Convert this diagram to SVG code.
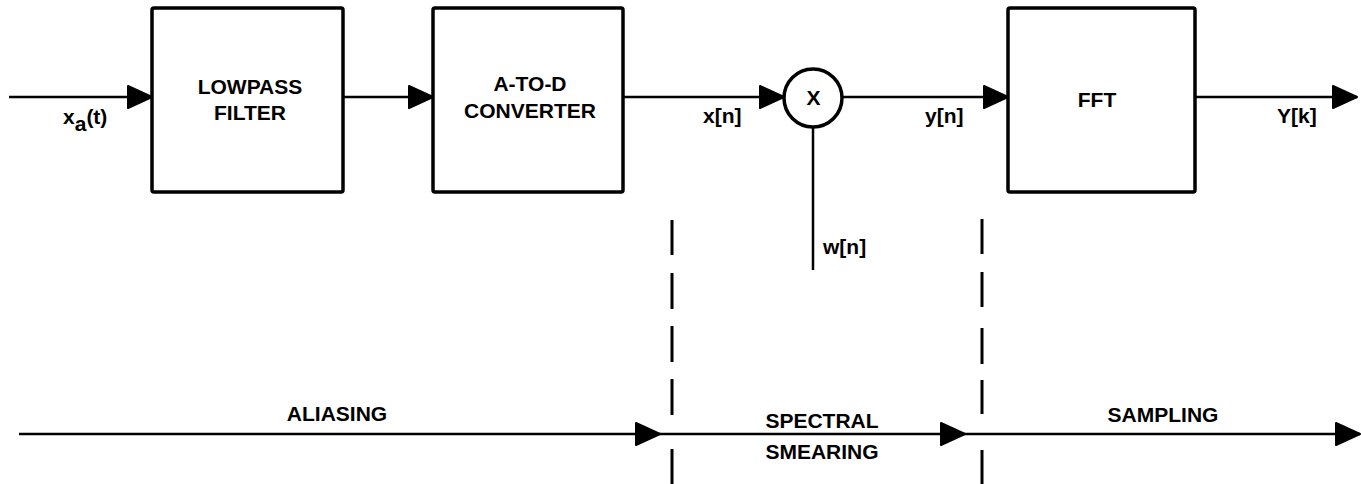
<svg xmlns="http://www.w3.org/2000/svg" width="1361" height="484" viewBox="0 0 1361 484">
<style>
  .box { fill: #fff; stroke: #000; stroke-width: 3.5; }
  .wire { stroke: #000; stroke-width: 2.5; fill: none; }
  .dash { stroke: #000; stroke-width: 3; }
  text { font-family: "Liberation Sans", Arial, Helvetica, sans-serif; font-weight: bold; font-size: 21px; fill: #000; }
  .c { text-anchor: middle; }
</style>
<defs>
  <marker id="ah" markerUnits="userSpaceOnUse" markerWidth="27" markerHeight="27" refX="25" refY="12" orient="auto" viewBox="-1 -1 27 26">
    <path d="M1,1 L25,12 L1,23 Z" fill="#000" stroke="#000" stroke-width="2" stroke-linejoin="round"/>
  </marker>
</defs>

<g id="connectors">
  <line class="wire" x1="9" y1="97" x2="152" y2="97" marker-end="url(#ah)"/>
  <line class="wire" x1="343" y1="97" x2="433" y2="97" marker-end="url(#ah)"/>
  <line class="wire" x1="623" y1="97" x2="784" y2="97" marker-end="url(#ah)"/>
  <line class="wire" x1="842" y1="97" x2="1008" y2="97" marker-end="url(#ah)"/>
  <line class="wire" x1="1195" y1="97" x2="1357" y2="97" marker-end="url(#ah)"/>
  <line class="wire" x1="813" y1="127" x2="813" y2="270"/>
  <line class="wire" x1="19" y1="434" x2="660" y2="434" marker-end="url(#ah)"/>
  <line class="wire" x1="660" y1="434" x2="965" y2="434" marker-end="url(#ah)"/>
  <line class="wire" x1="965" y1="434" x2="1360" y2="434" marker-end="url(#ah)"/>
</g>

<g id="boundaries">
  <path class="dash" d="M672,220 V255 M672,273 V309 M672,326 V362 M672,379 V415 M672,449 V484"/>
  <path class="dash" d="M982,219 V254 M982,272 V307 M982,328 V364 M982,380 V414 M982,450 V484"/>
</g>

<g id="lowpass">
  <rect class="box" x="152" y="8" width="191" height="184" rx="2"/>
  <text class="c" x="250" y="94" font-size="21.5">LOWPASS</text>
  <text class="c" x="250" y="120" font-size="21.5">FILTER</text>
</g>

<g id="adc">
  <rect class="box" x="433" y="8" width="190" height="184" rx="2"/>
  <text class="c" x="530" y="91" font-size="21.5">A-TO-D</text>
  <text class="c" x="530" y="118" font-size="21.5">CONVERTER</text>
</g>

<g id="multiplier">
  <circle class="box" cx="813" cy="98" r="29" stroke-width="3"/>
  <text class="c" x="813.5" y="105">X</text>
</g>

<g id="fft">
  <rect class="box" x="1008" y="8" width="187" height="184" rx="2"/>
  <text class="c" x="1097" y="107" font-size="21.5">FFT</text>
</g>

<g id="labels">
  <text x="63" y="124">x<tspan dy="7">a</tspan><tspan dy="-7">(t)</tspan></text>
  <text x="703" y="123">x[n]</text>
  <text x="925" y="123">y[n]</text>
  <text x="1277" y="123">Y[k]</text>
  <text x="823" y="254">w[n]</text>
  <text class="c" x="337" y="421">ALIASING</text>
  <text class="c" x="822" y="428">SPECTRAL</text>
  <text class="c" x="822" y="459">SMEARING</text>
  <text class="c" x="1163" y="422">SAMPLING</text>
</g>
</svg>
